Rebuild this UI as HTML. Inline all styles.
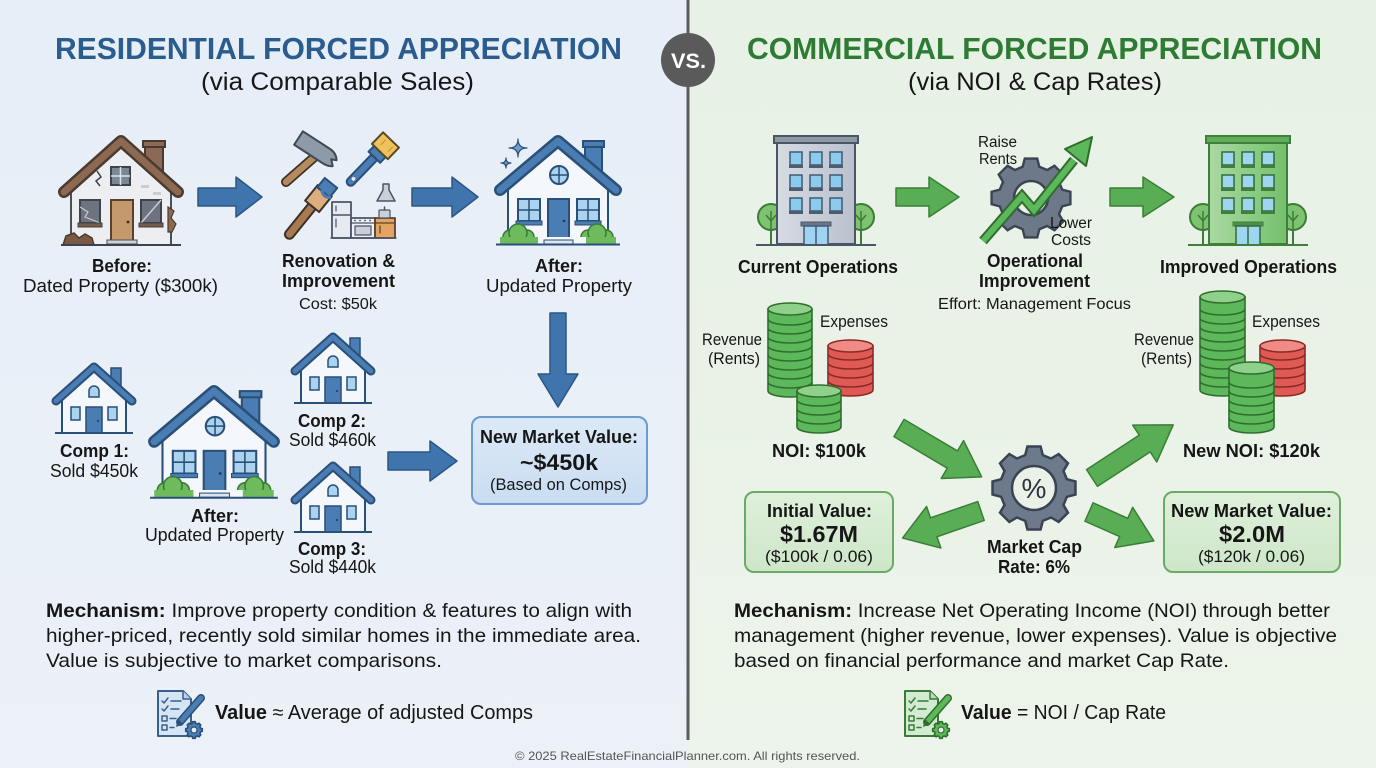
<!DOCTYPE html>
<html><head><meta charset="utf-8">
<style>
html,body{margin:0;padding:0;width:1376px;height:768px;overflow:hidden;background:#e8eff7}
svg{display:block}
text{font-family:"Liberation Sans",Arial,sans-serif;fill:#161616}
.b{font-weight:bold}
</style></head><body>
<svg width="1376" height="768" viewBox="0 0 1376 768" xmlns="http://www.w3.org/2000/svg">
<defs>
 <linearGradient id="lbg" x1="0" y1="0" x2="0" y2="1"><stop offset="0" stop-color="#e6eef7"/><stop offset="1" stop-color="#ecf1f8"/></linearGradient>
 <linearGradient id="rbg" x1="0" y1="0" x2="0" y2="1"><stop offset="0" stop-color="#e7f1e5"/><stop offset="1" stop-color="#edf4eb"/></linearGradient>
 <linearGradient id="bbox" x1="0" y1="0" x2="0" y2="1"><stop offset="0" stop-color="#dce9f7"/><stop offset="1" stop-color="#c9ddf1"/></linearGradient>
 <linearGradient id="gbox" x1="0" y1="0" x2="0" y2="1"><stop offset="0" stop-color="#dff0db"/><stop offset="1" stop-color="#cde6c8"/></linearGradient>
 <linearGradient id="gray" x1="0" y1="0" x2="1" y2="0"><stop offset="0" stop-color="#d6dbe3"/><stop offset="1" stop-color="#b9c1cc"/></linearGradient>
 <linearGradient id="grn" x1="0" y1="0" x2="1" y2="0"><stop offset="0" stop-color="#a9d9a2"/><stop offset="1" stop-color="#74c06c"/></linearGradient>
 <path id="gear" d="M32.86,-8.80 L41.48,-6.57 L41.48,6.57 L32.86,8.80 L29.46,17.01 L33.98,24.69 L24.69,33.98 L17.01,29.46 L8.80,32.86 L6.57,41.48 L-6.57,41.48 L-8.80,32.86 L-17.01,29.46 L-24.69,33.98 L-33.98,24.69 L-29.46,17.01 L-32.86,8.80 L-41.48,6.57 L-41.48,-6.57 L-32.86,-8.80 L-29.46,-17.01 L-33.98,-24.69 L-24.69,-33.98 L-17.01,-29.46 L-8.80,-32.86 L-6.57,-41.48 L6.57,-41.48 L8.80,-32.86 L17.01,-29.46 L24.69,-33.98 L33.98,-24.69 L29.46,-17.01 Z"/>
 <g id="comp">
  <rect x="17" y="5" width="10" height="22" fill="#4a7db3" stroke="#2a4f78" stroke-width="1.5"/>
  <polygon points="-32,70 -32,33 0,7 32,33 32,70" fill="#f4f7fb" stroke="#2a4f78" stroke-width="2"/>
  <polyline points="-38,38 0,4 38,38" fill="none" stroke="#2a4f78" stroke-width="9" stroke-linecap="round" stroke-linejoin="round"/>
  <polyline points="-38,38 0,4 38,38" fill="none" stroke="#4a7db3" stroke-width="5" stroke-linecap="round" stroke-linejoin="round"/>
  <path d="M-5,34 v-6 a5,5 0 0 1 10,0 v6 z" fill="#a9d3ee" stroke="#2a4f78" stroke-width="1.5"/>
  <rect x="-23" y="44" width="9" height="13" fill="#a9d3ee" stroke="#2a4f78" stroke-width="1.5"/>
  <rect x="14" y="44" width="9" height="13" fill="#a9d3ee" stroke="#2a4f78" stroke-width="1.5"/>
  <rect x="-8" y="44" width="16" height="26" fill="#4a7db3" stroke="#2a4f78" stroke-width="1.5"/>
  <circle cx="4" cy="58" r="1" fill="#1d3a5a"/>
  <line x1="-39" y1="70" x2="39" y2="70" stroke="#2a4f78" stroke-width="2"/>
 </g>
 <g id="bighouse">
  <rect x="27" y="7" width="17" height="30" fill="#4a7db3" stroke="#2a4f78" stroke-width="2"/>
  <rect x="25" y="4" width="21" height="6" fill="#4a7db3" stroke="#2a4f78" stroke-width="2"/>
  <polygon points="-50,107 -50,50 0,9 50,50 50,107" fill="#f4f7fb" stroke="#2a4f78" stroke-width="2"/>
  <polyline points="-58,53 0,4 58,53" fill="none" stroke="#2a4f78" stroke-width="12" stroke-linecap="round" stroke-linejoin="round"/>
  <polyline points="-58,53 0,4 58,53" fill="none" stroke="#4a7db3" stroke-width="7" stroke-linecap="round" stroke-linejoin="round"/>
  <circle cx="1" cy="38" r="9" fill="#a9d3ee" stroke="#2a4f78" stroke-width="2"/>
  <line x1="-8" y1="38" x2="10" y2="38" stroke="#2a4f78" stroke-width="1.5"/>
  <line x1="1" y1="29" x2="1" y2="47" stroke="#2a4f78" stroke-width="1.5"/>
  <rect x="-40" y="62" width="22" height="22" fill="#a9d3ee" stroke="#2a4f78" stroke-width="2"/>
  <line x1="-29" y1="62" x2="-29" y2="84" stroke="#2a4f78" stroke-width="1.5"/>
  <line x1="-40" y1="73" x2="-18" y2="73" stroke="#2a4f78" stroke-width="1.5"/>
  <rect x="-42" y="84" width="26" height="4" fill="#4a7db3" stroke="#2a4f78" stroke-width="1"/>
  <rect x="19" y="62" width="22" height="22" fill="#a9d3ee" stroke="#2a4f78" stroke-width="2"/>
  <line x1="30" y1="62" x2="30" y2="84" stroke="#2a4f78" stroke-width="1.5"/>
  <line x1="19" y1="73" x2="41" y2="73" stroke="#2a4f78" stroke-width="1.5"/>
  <rect x="17" y="84" width="26" height="4" fill="#4a7db3" stroke="#2a4f78" stroke-width="1"/>
  <rect x="-10" y="62" width="21" height="42" fill="#4a7db3" stroke="#2a4f78" stroke-width="2"/>
  <circle cx="6" cy="84" r="1.3" fill="#1d3a5a"/>
  <g fill="#6dbb5c" stroke="#3b7a34" stroke-width="1.5">
   <circle cx="-48" cy="100" r="7"/><circle cx="-31" cy="100" r="7"/><circle cx="-40" cy="96" r="9"/>
   <circle cx="30" cy="100" r="7"/><circle cx="48" cy="100" r="7"/><circle cx="39" cy="96" r="9"/>
  </g>
  <rect x="-58" y="100" width="116" height="7" fill="#6dbb5c"/>
  <rect x="-20" y="100" width="48" height="7" fill="#f4f7fb"/>
  <rect x="-14" y="103" width="29" height="4" fill="#dde5ee" stroke="#2a4f78" stroke-width="1"/>
  <line x1="-62" y1="107.5" x2="62" y2="107.5" stroke="#2a4f78" stroke-width="2"/>
 </g>
</defs>

<!-- backgrounds -->
<rect x="0" y="0" width="688" height="768" fill="url(#lbg)"/>
<rect x="688" y="0" width="688" height="768" fill="url(#rbg)"/>
<line x1="688" y1="0" x2="688" y2="740" stroke="#5c5c5c" stroke-width="3"/>
<circle cx="688" cy="60" r="27" fill="#5a5a5a"/>
<text x="671" y="68" class="b" font-size="21" textLength="35" lengthAdjust="spacingAndGlyphs" style="fill:#fff">VS.</text>

<!-- titles -->
<text x="55" y="59" class="b" font-size="31" textLength="567" lengthAdjust="spacingAndGlyphs" style="fill:#2b5c8e">RESIDENTIAL FORCED APPRECIATION</text>
<text x="201" y="90" font-size="25" textLength="273" lengthAdjust="spacingAndGlyphs">(via Comparable Sales)</text>
<text x="747" y="59" class="b" font-size="31" textLength="575" lengthAdjust="spacingAndGlyphs" style="fill:#2e7b34">COMMERCIAL FORCED APPRECIATION</text>
<text x="908" y="90" font-size="25" textLength="254" lengthAdjust="spacingAndGlyphs">(via NOI &amp; Cap Rates)</text>

<!-- ============ LEFT ============ -->
<!-- old house -->
<g transform="translate(121,137)">
 <rect x="24" y="7" width="18" height="28" fill="#8a6a55" stroke="#4a3a30" stroke-width="2"/>
 <rect x="22" y="4" width="22" height="6" fill="#8a6a55" stroke="#4a3a30" stroke-width="2"/>
 <polygon points="-50,108 -50,50 0,9 50,50 50,108" fill="#eceef1" stroke="#4a4f58" stroke-width="2"/>
 <polyline points="-57,55 0,4 57,55" fill="none" stroke="#4a3a30" stroke-width="12" stroke-linecap="round" stroke-linejoin="round"/>
 <polyline points="-57,55 0,4 57,55" fill="none" stroke="#8c6a52" stroke-width="7" stroke-linecap="round" stroke-linejoin="round"/>
 <rect x="-10" y="30" width="19" height="18" fill="#7d8794" stroke="#3d434c" stroke-width="2"/>
 <line x1="-0.5" y1="30" x2="-0.5" y2="48" stroke="#dfe3e8" stroke-width="1.5"/>
 <line x1="-10" y1="39" x2="9" y2="39" stroke="#dfe3e8" stroke-width="1.5"/>
 <polyline points="-24,34 -20,40 -25,44 -21,49" fill="none" stroke="#3d434c" stroke-width="1.5"/>
 <rect x="-41" y="63" width="20" height="23" fill="#6d7480" stroke="#3d434c" stroke-width="2"/>
 <polyline points="-41,70 -33,75 -36,80 -21,86" fill="none" stroke="#c8ccd2" stroke-width="1.2"/>
 <rect x="-43" y="86" width="24" height="4" fill="#7a5a44" stroke="#3d434c" stroke-width="1"/>
 <rect x="20" y="63" width="20" height="23" fill="#6d7480" stroke="#3d434c" stroke-width="2"/>
 <line x1="20" y1="86" x2="40" y2="63" stroke="#c8ccd2" stroke-width="1.5"/>
 <rect x="18" y="86" width="24" height="4" fill="#7a5a44" stroke="#3d434c" stroke-width="1"/>
 <rect x="-10" y="63" width="22" height="41" fill="#c49a6c" stroke="#5a4030" stroke-width="2"/>
 <circle cx="7" cy="85" r="1.4" fill="#3a2a20"/>
 <rect x="-14" y="103" width="30" height="4" fill="#cfd3d8" stroke="#4a4f58" stroke-width="1"/>
 <path d="M47,70 l6,4 -3,7 5,6 -4,8 -4,0 z" fill="#8a6a52" stroke="#4a3a30" stroke-width="1.2"/>
 <rect x="20" y="48" width="8" height="3" fill="#c9cdd3"/><rect x="32" y="55" width="8" height="3" fill="#c9cdd3"/>
 <path d="M-58,108 l3,-9 8,-3 5,5 6,-4 7,4 2,7 z" fill="#7a5a44" stroke="#4a3a30" stroke-width="1.5"/>
 <line x1="-60" y1="108" x2="60" y2="108" stroke="#3d434c" stroke-width="2"/>
</g>

<!-- blue arrows -->
<g fill="#3f74ad" stroke="#2b5685" stroke-width="1.5" stroke-linejoin="round">
 <polygon points="198,188 236,188 236,177 262,197 236,217 236,206 198,206"/>
 <polygon points="412,188 452,188 452,177 478,197 452,217 452,206 412,206"/>
 <polygon points="550,313 566,313 566,374 578,374 558,407 538,374 550,374"/>
 <polygon points="388,452 430,452 430,441 457,461 430,481 430,470 388,470"/>
</g>

<!-- tools -->
<g stroke-linejoin="round" stroke-linecap="round">
 <!-- hammer -->
 <line x1="286" y1="182" x2="319" y2="153" stroke="#3d3028" stroke-width="10"/>
 <line x1="286" y1="182" x2="319" y2="153" stroke="#b58a5c" stroke-width="6.5"/>
 <g transform="translate(317,150) rotate(33)">
  <path d="M-22,-8 H10 Q18,-8 22,-2 L17,0 L22,5 Q18,8 12,8 H-22 Z" fill="#8f9aa8" stroke="#3f4957" stroke-width="2"/>
 </g>
 <!-- paint brush top right -->
 <g transform="translate(391,140) rotate(134)">
  <path d="M24,-4 H58 A4,4 0 0 1 58,4 H24 Z" fill="#4a7db3" stroke="#2a4f78" stroke-width="2"/>
  <circle cx="54" cy="0" r="1.8" fill="#e8eff7"/>
  <path d="M16,-8 H24 V8 H16 Z" fill="#4a7db3" stroke="#2a4f78" stroke-width="2"/>
  <path d="M0,-11 H16 V11 H0 Z" fill="#f0c25c" stroke="#5a4a2a" stroke-width="2"/>
  <line x1="4" y1="-6" x2="10" y2="-6" stroke="#c9952e" stroke-width="1.2"/>
  <line x1="4" y1="4" x2="10" y2="4" stroke="#c9952e" stroke-width="1.2"/>
 </g>
 <!-- second brush -->
 <g transform="translate(331,183) rotate(129)">
  <path d="M30,-4.5 H66 A4.5,4.5 0 0 1 66,4.5 H30 Z" fill="#a87a50" stroke="#3d3028" stroke-width="2"/>
  <path d="M10,-9 H30 V9 H10 Z" fill="#dcae7e" stroke="#3d3028" stroke-width="2"/>
  <path d="M0,-8 H12 V8 H0 Z" fill="#4a7db3" stroke="#2a4f78" stroke-width="2"/>
  <path d="M12,-8 Q16,-3 12,2" fill="none" stroke="#4a7db3" stroke-width="3"/>
 </g>
 <!-- hood -->
 <path d="M383,184 h6 v6 l6,11 h-18 l6,-11 z" fill="#c9d0d8" stroke="#4a5566" stroke-width="1.5"/>
 <!-- fridge -->
 <rect x="332" y="202" width="19" height="36" fill="#e6ebf1" stroke="#4a5566" stroke-width="1.8"/>
 <line x1="332" y1="215" x2="351" y2="215" stroke="#4a5566" stroke-width="1.5"/>
 <line x1="336" y1="206" x2="336" y2="211" stroke="#4a5566" stroke-width="1.2"/>
 <line x1="336" y1="219" x2="336" y2="227" stroke="#4a5566" stroke-width="1.2"/>
 <!-- stove -->
 <rect x="351" y="218" width="24" height="20" fill="#eef1f5" stroke="#4a5566" stroke-width="1.8"/>
 <line x1="351" y1="223" x2="375" y2="223" stroke="#4a5566" stroke-width="1.2"/>
 <rect x="355" y="226" width="16" height="9" fill="#c9d0d8" stroke="#4a5566" stroke-width="1.2"/>
 <g fill="#4a5566"><circle cx="355" cy="220.5" r="0.9"/><circle cx="360" cy="220.5" r="0.9"/><circle cx="365" cy="220.5" r="0.9"/><circle cx="370" cy="220.5" r="0.9"/></g>
 <!-- cabinet -->
 <rect x="375" y="218" width="20" height="20" fill="#e3a462" stroke="#5a4030" stroke-width="1.8"/>
 <line x1="375" y1="223" x2="395" y2="223" stroke="#5a4030" stroke-width="1.2"/>
 <line x1="380" y1="226" x2="380" y2="233" stroke="#5a4030" stroke-width="1.2"/>
 <rect x="379" y="210" width="11" height="8" rx="1" fill="#c9d0d8" stroke="#4a5566" stroke-width="1.2"/>
 <line x1="384.5" y1="207" x2="384.5" y2="210" stroke="#4a5566" stroke-width="1.5"/>
 <line x1="331" y1="238" x2="396" y2="238" stroke="#4a5566" stroke-width="1.5"/>
</g>

<!-- after house top -->
<use href="#bighouse" transform="translate(558,137)"/>
<g fill="#6f9fd0" stroke="#2a4f78" stroke-width="1.2" stroke-linejoin="round">
 <path d="M518,139 Q518,148 527,148 Q518,148 518,157 Q518,148 509,148 Q518,148 518,139 Z"/>
 <path d="M506,158 Q506,163 511,163 Q506,163 506,168 Q506,163 501,163 Q506,163 506,158 Z"/>
</g>

<!-- row1 labels -->
<text x="92" y="272" class="b" font-size="18.5" textLength="60" lengthAdjust="spacingAndGlyphs">Before:</text>
<text x="23" y="292" font-size="18.5" textLength="195" lengthAdjust="spacingAndGlyphs">Dated Property ($300k)</text>
<text x="282" y="267" class="b" font-size="18.5" textLength="113" lengthAdjust="spacingAndGlyphs">Renovation &amp;</text>
<text x="282" y="287" class="b" font-size="18.5" textLength="113" lengthAdjust="spacingAndGlyphs">Improvement</text>
<text x="299" y="309" font-size="16" textLength="78" lengthAdjust="spacingAndGlyphs">Cost: $50k</text>
<text x="535" y="272" class="b" font-size="18.5" textLength="48" lengthAdjust="spacingAndGlyphs">After:</text>
<text x="486" y="292" font-size="18.5" textLength="146" lengthAdjust="spacingAndGlyphs">Updated Property</text>

<!-- comps -->
<use href="#comp" transform="translate(94,363)"/>
<use href="#comp" transform="translate(333,333)"/>
<use href="#comp" transform="translate(333,462)"/>
<use href="#bighouse" transform="translate(214,387) scale(1.03)"/>

<text x="60" y="457" class="b" font-size="18.5" textLength="69" lengthAdjust="spacingAndGlyphs">Comp 1:</text>
<text x="50" y="477" font-size="18.5" textLength="88" lengthAdjust="spacingAndGlyphs">Sold $450k</text>
<text x="191" y="522" class="b" font-size="18.5" textLength="48" lengthAdjust="spacingAndGlyphs">After:</text>
<text x="145" y="541" font-size="18.5" textLength="139" lengthAdjust="spacingAndGlyphs">Updated Property</text>
<text x="298" y="427" class="b" font-size="18.5" textLength="68" lengthAdjust="spacingAndGlyphs">Comp 2:</text>
<text x="289" y="446" font-size="18.5" textLength="87" lengthAdjust="spacingAndGlyphs">Sold $460k</text>
<text x="298" y="555" class="b" font-size="18.5" textLength="68" lengthAdjust="spacingAndGlyphs">Comp 3:</text>
<text x="289" y="573" font-size="18.5" textLength="87" lengthAdjust="spacingAndGlyphs">Sold $440k</text>

<!-- value box -->
<rect x="472" y="417" width="175" height="87" rx="9" fill="url(#bbox)" stroke="#6b9bcf" stroke-width="2"/>
<text x="480" y="443" class="b" font-size="18" textLength="158" lengthAdjust="spacingAndGlyphs">New Market Value:</text>
<text x="520" y="470" class="b" font-size="22" textLength="78" lengthAdjust="spacingAndGlyphs">~$450k</text>
<text x="490" y="490" font-size="16.5" textLength="137" lengthAdjust="spacingAndGlyphs">(Based on Comps)</text>

<!-- mechanism left -->
<text x="46" y="617" font-size="19.5" textLength="586" lengthAdjust="spacingAndGlyphs"><tspan class="b">Mechanism:</tspan> Improve property condition &amp; features to align with</text>
<text x="46" y="642" font-size="19.5" textLength="595" lengthAdjust="spacingAndGlyphs">higher-priced, recently sold similar homes in the immediate area.</text>
<text x="46" y="667" font-size="19.5" textLength="396" lengthAdjust="spacingAndGlyphs">Value is subjective to market comparisons.</text>

<!-- checklist icon blue -->
<g transform="translate(156,688)" stroke-linecap="round" stroke-linejoin="round">
 <path d="M2,3 H27 L35,11 V48 H2 Z" fill="#d6e5f4" stroke="#3a5f8a" stroke-width="2"/>
 <path d="M27,3 V11 H35" fill="#b9d1ea" stroke="#3a5f8a" stroke-width="1.5"/>
 <g fill="none" stroke="#3a5f8a" stroke-width="1.5">
  <polyline points="6,13 8,15 12,10"/><line x1="15" y1="13" x2="25" y2="13"/>
  <polyline points="6,21 8,23 12,18"/><line x1="15" y1="21" x2="23" y2="21"/>
  <rect x="6" y="28" width="5" height="5"/><line x1="14" y1="30.5" x2="20" y2="30.5"/>
  <rect x="6" y="37" width="5" height="5"/><line x1="14" y1="39.5" x2="18" y2="39.5"/>
 </g>
 <line x1="24" y1="34" x2="45" y2="10" stroke="#2a4f78" stroke-width="8"/>
 <line x1="24" y1="34" x2="45" y2="10" stroke="#4a7db3" stroke-width="5"/>
 <polygon points="20,39 22,31 27,36" fill="#2a4f78"/>
 <use href="#gear" transform="translate(38,42) scale(0.2)" fill="#4a7db3" stroke="#2a4f78" stroke-width="8"/>
 <circle cx="38" cy="42" r="3" fill="#e8eff7" stroke="#2a4f78" stroke-width="1.2"/>
</g>
<text x="215" y="719" font-size="20" textLength="318" lengthAdjust="spacingAndGlyphs"><tspan class="b">Value</tspan> ≈ Average of adjusted Comps</text>

<!-- ============ RIGHT ============ -->
<!-- gray building -->
<g transform="translate(816,245)">
 <g stroke="#3e7a38" stroke-width="2" fill="none">
  <line x1="-45" y1="-18" x2="-45" y2="0"/><line x1="45" y1="-18" x2="45" y2="0"/>
 </g>
 <circle cx="-45" cy="-28" r="13" fill="#7cc46f" stroke="#3e7a38" stroke-width="2"/>
 <circle cx="45" cy="-28" r="13" fill="#7cc46f" stroke="#3e7a38" stroke-width="2"/>
 <g stroke="#3e7a38" stroke-width="1.5" fill="none">
  <polyline points="-50,-30 -45,-24 -40,-30"/><line x1="-45" y1="-34" x2="-45" y2="-15"/>
  <polyline points="40,-30 45,-24 50,-30"/><line x1="45" y1="-34" x2="45" y2="-15"/>
 </g>
 <rect x="-39" y="-102" width="78" height="101" fill="url(#gray)" stroke="#4a5566" stroke-width="2"/>
 <rect x="-42" y="-109" width="84" height="7" fill="#8e99a8" stroke="#4a5566" stroke-width="2"/>
 <g fill="#8ccbec" stroke="#3f5a78" stroke-width="1.5">
  <rect x="-26" y="-93" width="12" height="13"/><rect x="-6" y="-93" width="12" height="13"/><rect x="14" y="-93" width="12" height="13"/>
  <rect x="-26" y="-70" width="12" height="13"/><rect x="-6" y="-70" width="12" height="13"/><rect x="14" y="-70" width="12" height="13"/>
  <rect x="-26" y="-47" width="12" height="13"/><rect x="-6" y="-47" width="12" height="13"/><rect x="14" y="-47" width="12" height="13"/>
 </g>
 <g fill="#4f5c6c">
  <rect x="-27" y="-80" width="14" height="3"/><rect x="-7" y="-80" width="14" height="3"/><rect x="13" y="-80" width="14" height="3"/>
  <rect x="-27" y="-57" width="14" height="3"/><rect x="-7" y="-57" width="14" height="3"/><rect x="13" y="-57" width="14" height="3"/>
  <rect x="-27" y="-34" width="14" height="3"/><rect x="-7" y="-34" width="14" height="3"/><rect x="13" y="-34" width="14" height="3"/>
 </g>
 <rect x="-15" y="-23" width="30" height="4" fill="#6b7787" stroke="#4a5566" stroke-width="1"/>
 <rect x="-12" y="-19" width="24" height="19" fill="#9fd3ef" stroke="#3f5a78" stroke-width="1.5"/>
 <line x1="0" y1="-19" x2="0" y2="0" stroke="#3f5a78" stroke-width="1.5"/>
 <line x1="-60" y1="0" x2="60" y2="0" stroke="#4a5566" stroke-width="2"/>
</g>

<!-- green building -->
<g transform="translate(1248,245)">
 <g stroke="#3e7a38" stroke-width="2" fill="none">
  <line x1="-45" y1="-18" x2="-45" y2="0"/><line x1="45" y1="-18" x2="45" y2="0"/>
 </g>
 <circle cx="-45" cy="-28" r="13" fill="#7cc46f" stroke="#3e7a38" stroke-width="2"/>
 <circle cx="45" cy="-28" r="13" fill="#7cc46f" stroke="#3e7a38" stroke-width="2"/>
 <g stroke="#3e7a38" stroke-width="1.5" fill="none">
  <polyline points="-50,-30 -45,-24 -40,-30"/><line x1="-45" y1="-34" x2="-45" y2="-15"/>
  <polyline points="40,-30 45,-24 50,-30"/><line x1="45" y1="-34" x2="45" y2="-15"/>
 </g>
 <rect x="-39" y="-102" width="78" height="101" fill="url(#grn)" stroke="#3f7f3b" stroke-width="2"/>
 <rect x="-42" y="-109" width="84" height="7" fill="#5fae5a" stroke="#3f7f3b" stroke-width="2"/>
 <g fill="#9fd6ef" stroke="#2f6b3a" stroke-width="1.5">
  <rect x="-26" y="-93" width="12" height="13"/><rect x="-6" y="-93" width="12" height="13"/><rect x="14" y="-93" width="12" height="13"/>
  <rect x="-26" y="-70" width="12" height="13"/><rect x="-6" y="-70" width="12" height="13"/><rect x="14" y="-70" width="12" height="13"/>
  <rect x="-26" y="-47" width="12" height="13"/><rect x="-6" y="-47" width="12" height="13"/><rect x="14" y="-47" width="12" height="13"/>
 </g>
 <g fill="#3f7f3b">
  <rect x="-27" y="-80" width="14" height="3"/><rect x="-7" y="-80" width="14" height="3"/><rect x="13" y="-80" width="14" height="3"/>
  <rect x="-27" y="-57" width="14" height="3"/><rect x="-7" y="-57" width="14" height="3"/><rect x="13" y="-57" width="14" height="3"/>
  <rect x="-27" y="-34" width="14" height="3"/><rect x="-7" y="-34" width="14" height="3"/><rect x="13" y="-34" width="14" height="3"/>
 </g>
 <rect x="-15" y="-23" width="30" height="4" fill="#4f8f4a" stroke="#3f7f3b" stroke-width="1"/>
 <rect x="-12" y="-19" width="24" height="19" fill="#9fd6ef" stroke="#2f6b3a" stroke-width="1.5"/>
 <line x1="0" y1="-19" x2="0" y2="0" stroke="#2f6b3a" stroke-width="1.5"/>
 <line x1="-60" y1="0" x2="60" y2="0" stroke="#3f7f3b" stroke-width="2"/>
</g>

<!-- green arrows -->
<g fill="#59ad54" stroke="#3a7f37" stroke-width="1.5" stroke-linejoin="round">
 <polygon points="896,188 929,188 929,177 959,197 929,217 929,206 896,206"/>
 <polygon points="1110,188 1143,188 1143,177 1174,197 1143,217 1143,206 1110,206"/>
 <polygon transform="translate(899,428) rotate(30.6)" points="0,-10 62,-10 62,-22 96,0 62,22 62,10 0,10"/>
 <polygon transform="translate(1092,478) rotate(-33.2)" points="0,-10 63,-10 63,-22 97,0 63,22 63,10 0,10"/>
 <polygon transform="translate(981,511) rotate(161)" points="0,-10 50,-10 50,-22 83,0 50,22 50,10 0,10"/>
 <polygon transform="translate(1089,512) rotate(24)" points="0,-10 38,-10 38,-22 71,0 38,22 38,10 0,10"/>
</g>

<!-- operational gear + trend -->
<use href="#gear" transform="translate(1031,198) scale(0.95)" fill="#6d7888" stroke="#3b4453" stroke-width="2.5"/>
<circle cx="1031" cy="198" r="17" fill="#e8f1e6" stroke="#3b4453" stroke-width="2.5"/>
<polyline points="983,241 1022,196 1034,210 1074,160" fill="none" stroke="#2f6e2d" stroke-width="10" stroke-linejoin="miter" stroke-linecap="butt"/>
<polyline points="983,241 1022,196 1034,210 1074,160" fill="none" stroke="#5cb85a" stroke-width="6" stroke-linejoin="miter" stroke-linecap="butt"/>
<polygon points="1092,137 1065,149 1086,166" fill="#5cb85a" stroke="#2f6e2d" stroke-width="2" stroke-linejoin="round"/>
<text x="978" y="147" font-size="15.5" textLength="39" lengthAdjust="spacingAndGlyphs">Raise</text>
<text x="979" y="164" font-size="15.5" textLength="38" lengthAdjust="spacingAndGlyphs">Rents</text>
<text x="1050" y="228" font-size="15.5" textLength="42" lengthAdjust="spacingAndGlyphs">Lower</text>
<text x="1051" y="245" font-size="15.5" textLength="40" lengthAdjust="spacingAndGlyphs">Costs</text>

<text x="738" y="273" class="b" font-size="18.5" textLength="160" lengthAdjust="spacingAndGlyphs">Current Operations</text>
<text x="987" y="267" class="b" font-size="18.5" textLength="96" lengthAdjust="spacingAndGlyphs">Operational</text>
<text x="979" y="287" class="b" font-size="18.5" textLength="111" lengthAdjust="spacingAndGlyphs">Improvement</text>
<text x="938" y="309" font-size="16" textLength="193" lengthAdjust="spacingAndGlyphs">Effort: Management Focus</text>
<text x="1160" y="273" class="b" font-size="18.5" textLength="177" lengthAdjust="spacingAndGlyphs">Improved Operations</text>

<!-- coin stacks left -->
<g stroke-width="1.6">
 <path d="M768,309 V391 A22,6 0 0 0 812,391 V309 Z" fill="#5cb85a" stroke="#2f6e2d"/>
 <g fill="none" stroke="#2f6e2d"><path d="M768,382 A22,6 0 0 0 812,382"/><path d="M768,373 A22,6 0 0 0 812,373"/><path d="M768,364 A22,6 0 0 0 812,364"/><path d="M768,355 A22,6 0 0 0 812,355"/><path d="M768,346 A22,6 0 0 0 812,346"/><path d="M768,337 A22,6 0 0 0 812,337"/><path d="M768,328 A22,6 0 0 0 812,328"/><path d="M768,319 A22,6 0 0 0 812,319"/></g>
 <ellipse cx="790" cy="309" rx="22" ry="6" fill="#8fd18a" stroke="#2f6e2d"/>

 <path d="M828,346 V390 A22.5,6 0 0 0 873,390 V346 Z" fill="#e05a55" stroke="#8a2a27"/>
 <g fill="none" stroke="#8a2a27"><path d="M828,381 A22.5,6 0 0 0 873,381"/><path d="M828,372 A22.5,6 0 0 0 873,372"/><path d="M828,363 A22.5,6 0 0 0 873,363"/><path d="M828,354 A22.5,6 0 0 0 873,354"/></g>
 <ellipse cx="850.5" cy="346" rx="22.5" ry="6" fill="#f08a85" stroke="#8a2a27"/>

 <path d="M797,391 V427 A22,6 0 0 0 841,427 V391 Z" fill="#5cb85a" stroke="#2f6e2d"/>
 <g fill="none" stroke="#2f6e2d"><path d="M797,418 A22,6 0 0 0 841,418"/><path d="M797,409 A22,6 0 0 0 841,409"/><path d="M797,400 A22,6 0 0 0 841,400"/></g>
 <ellipse cx="819" cy="391" rx="22" ry="6" fill="#8fd18a" stroke="#2f6e2d"/>
</g>
<!-- coin stacks right -->
<g stroke-width="1.6">
 <path d="M1200,297 V390 A22.5,6 0 0 0 1245,390 V297 Z" fill="#5cb85a" stroke="#2f6e2d"/>
 <g fill="none" stroke="#2f6e2d"><path d="M1200,381 A22.5,6 0 0 0 1245,381"/><path d="M1200,372 A22.5,6 0 0 0 1245,372"/><path d="M1200,363 A22.5,6 0 0 0 1245,363"/><path d="M1200,354 A22.5,6 0 0 0 1245,354"/><path d="M1200,345 A22.5,6 0 0 0 1245,345"/><path d="M1200,336 A22.5,6 0 0 0 1245,336"/><path d="M1200,327 A22.5,6 0 0 0 1245,327"/><path d="M1200,318 A22.5,6 0 0 0 1245,318"/><path d="M1200,309 A22.5,6 0 0 0 1245,309"/></g>
 <ellipse cx="1222.5" cy="297" rx="22.5" ry="6" fill="#8fd18a" stroke="#2f6e2d"/>

 <path d="M1260,346 V390 A22.5,6 0 0 0 1305,390 V346 Z" fill="#e05a55" stroke="#8a2a27"/>
 <g fill="none" stroke="#8a2a27"><path d="M1260,381 A22.5,6 0 0 0 1305,381"/><path d="M1260,372 A22.5,6 0 0 0 1305,372"/><path d="M1260,363 A22.5,6 0 0 0 1305,363"/><path d="M1260,354 A22.5,6 0 0 0 1305,354"/></g>
 <ellipse cx="1282.5" cy="346" rx="22.5" ry="6" fill="#f08a85" stroke="#8a2a27"/>

 <path d="M1229,368 V427 A22.5,6 0 0 0 1274,427 V368 Z" fill="#5cb85a" stroke="#2f6e2d"/>
 <g fill="none" stroke="#2f6e2d"><path d="M1229,418 A22.5,6 0 0 0 1274,418"/><path d="M1229,409 A22.5,6 0 0 0 1274,409"/><path d="M1229,400 A22.5,6 0 0 0 1274,400"/><path d="M1229,391 A22.5,6 0 0 0 1274,391"/><path d="M1229,382 A22.5,6 0 0 0 1274,382"/></g>
 <ellipse cx="1251.5" cy="368" rx="22.5" ry="6" fill="#8fd18a" stroke="#2f6e2d"/>
</g>

<text x="820" y="327" font-size="16.5" textLength="68" lengthAdjust="spacingAndGlyphs">Expenses</text>
<text x="702" y="345" font-size="16.5" textLength="60" lengthAdjust="spacingAndGlyphs">Revenue</text>
<text x="708" y="364" font-size="16.5" textLength="52" lengthAdjust="spacingAndGlyphs">(Rents)</text>
<text x="772" y="457" class="b" font-size="18.5" textLength="94" lengthAdjust="spacingAndGlyphs">NOI: $100k</text>
<text x="1252" y="327" font-size="16.5" textLength="68" lengthAdjust="spacingAndGlyphs">Expenses</text>
<text x="1134" y="345" font-size="16.5" textLength="60" lengthAdjust="spacingAndGlyphs">Revenue</text>
<text x="1141" y="364" font-size="16.5" textLength="51" lengthAdjust="spacingAndGlyphs">(Rents)</text>
<text x="1183" y="457" class="b" font-size="18.5" textLength="137" lengthAdjust="spacingAndGlyphs">New NOI: $120k</text>

<!-- cap rate gear -->
<use href="#gear" transform="translate(1034,488)" fill="#6d7a8c" stroke="#3a4352" stroke-width="2.5"/>
<circle cx="1034" cy="488" r="22" fill="#eaf2e8" stroke="#3a4352" stroke-width="2.5"/>
<text x="1034" y="498" font-size="28" text-anchor="middle" style="fill:#2b3440">%</text>
<text x="987" y="553" class="b" font-size="18.5" textLength="95" lengthAdjust="spacingAndGlyphs">Market Cap</text>
<text x="998" y="573" class="b" font-size="18.5" textLength="72" lengthAdjust="spacingAndGlyphs">Rate: 6%</text>

<!-- value boxes -->
<rect x="745" y="492" width="148" height="80" rx="9" fill="url(#gbox)" stroke="#6aaa66" stroke-width="2"/>
<text x="767" y="517" class="b" font-size="18" textLength="105" lengthAdjust="spacingAndGlyphs">Initial Value:</text>
<text x="780" y="542" class="b" font-size="23" textLength="78" lengthAdjust="spacingAndGlyphs">$1.67M</text>
<text x="765" y="562" font-size="16.5" textLength="108" lengthAdjust="spacingAndGlyphs">($100k / 0.06)</text>

<rect x="1164" y="492" width="176" height="80" rx="9" fill="url(#gbox)" stroke="#6aaa66" stroke-width="2"/>
<text x="1171" y="517" class="b" font-size="18" textLength="161" lengthAdjust="spacingAndGlyphs">New Market Value:</text>
<text x="1219" y="542" class="b" font-size="23" textLength="66" lengthAdjust="spacingAndGlyphs">$2.0M</text>
<text x="1198" y="562" font-size="16.5" textLength="107" lengthAdjust="spacingAndGlyphs">($120k / 0.06)</text>

<!-- mechanism right -->
<text x="734" y="617" font-size="19.5" textLength="596" lengthAdjust="spacingAndGlyphs"><tspan class="b">Mechanism:</tspan> Increase Net Operating Income (NOI) through better</text>
<text x="734" y="642" font-size="19.5" textLength="603" lengthAdjust="spacingAndGlyphs">management (higher revenue, lower expenses). Value is objective</text>
<text x="734" y="667" font-size="19.5" textLength="495" lengthAdjust="spacingAndGlyphs">based on financial performance and market Cap Rate.</text>

<!-- checklist icon green -->
<g transform="translate(903,688)" stroke-linecap="round" stroke-linejoin="round">
 <path d="M2,3 H27 L35,11 V48 H2 Z" fill="#d3ebd0" stroke="#3a7a36" stroke-width="2"/>
 <path d="M27,3 V11 H35" fill="#b6dcb1" stroke="#3a7a36" stroke-width="1.5"/>
 <g fill="none" stroke="#3a7a36" stroke-width="1.5">
  <polyline points="6,13 8,15 12,10"/><line x1="15" y1="13" x2="25" y2="13"/>
  <polyline points="6,21 8,23 12,18"/><line x1="15" y1="21" x2="23" y2="21"/>
  <rect x="6" y="28" width="5" height="5"/><line x1="14" y1="30.5" x2="20" y2="30.5"/>
  <rect x="6" y="37" width="5" height="5"/><line x1="14" y1="39.5" x2="18" y2="39.5"/>
 </g>
 <line x1="24" y1="34" x2="45" y2="10" stroke="#2f6e2d" stroke-width="8"/>
 <line x1="24" y1="34" x2="45" y2="10" stroke="#5cb85a" stroke-width="5"/>
 <polygon points="20,39 22,31 27,36" fill="#2f6e2d"/>
 <use href="#gear" transform="translate(38,42) scale(0.2)" fill="#5cb85a" stroke="#2f6e2d" stroke-width="8"/>
 <circle cx="38" cy="42" r="3" fill="#eaf2e8" stroke="#2f6e2d" stroke-width="1.2"/>
</g>
<text x="961" y="719" font-size="20" textLength="205" lengthAdjust="spacingAndGlyphs"><tspan class="b">Value</tspan> = NOI / Cap Rate</text>

<!-- footer -->
<text x="515" y="760" font-size="12" textLength="345" lengthAdjust="spacingAndGlyphs" style="fill:#555">© 2025 RealEstateFinancialPlanner.com. All rights reserved.</text>
</svg>
</body></html>
